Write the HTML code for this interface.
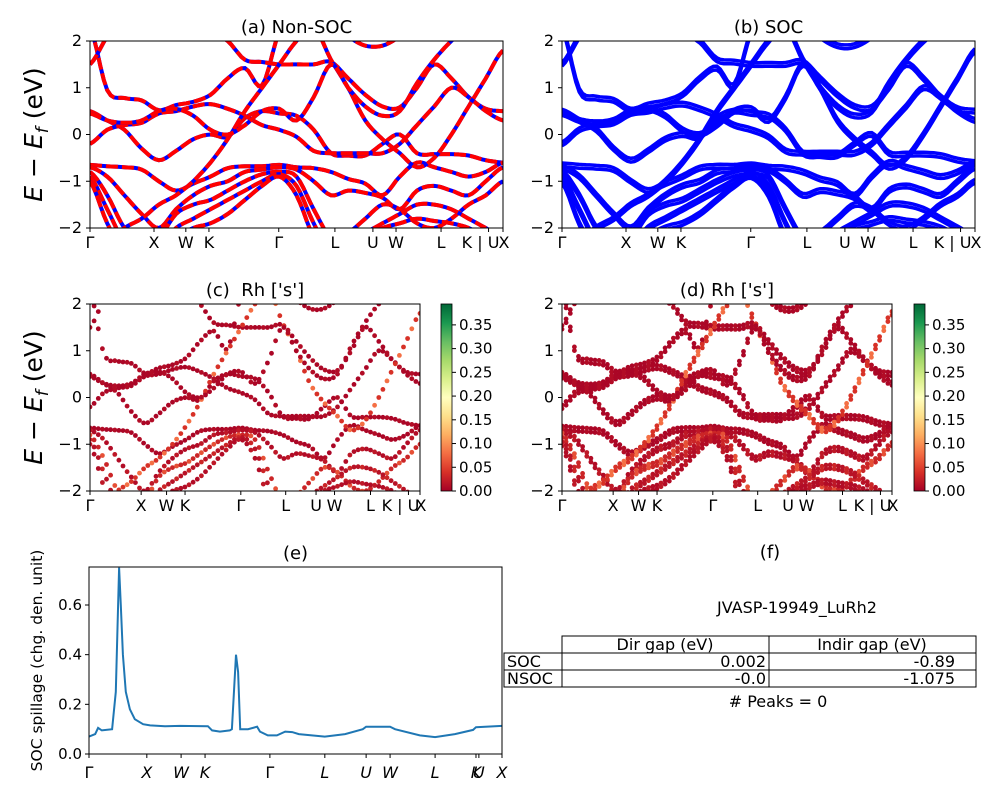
<!DOCTYPE html>
<html><head><meta charset="utf-8"><style>
body{margin:0;background:#fff;}
svg text{font-family:"DejaVu Sans","Liberation Sans",sans-serif;fill:#000;white-space:pre;}
</style></head><body>
<svg id="fig" width="1000" height="800" viewBox="0 0 1000 800" xmlns="http://www.w3.org/2000/svg">
<defs>
<linearGradient id="rdylgn" x1="0" y1="1" x2="0" y2="0">
<stop offset="0" stop-color="#a50026"/><stop offset="0.1" stop-color="#d73027"/><stop offset="0.2" stop-color="#f46d43"/><stop offset="0.3" stop-color="#fdae61"/><stop offset="0.4" stop-color="#fee08b"/><stop offset="0.5" stop-color="#ffffbf"/><stop offset="0.6" stop-color="#d9ef8b"/><stop offset="0.7" stop-color="#a6d96a"/><stop offset="0.8" stop-color="#66bd63"/><stop offset="0.9" stop-color="#1a9850"/><stop offset="1" stop-color="#006837"/>
</linearGradient>
</defs>
</svg>
<script>
// ---- data ----
const kLabels = ["Γ","X","W","K","Γ","L","U","W","L","K | U","X"];
const kTicks = [0,0.155,0.232,0.288,0.457,0.593,0.685,0.741,0.850,0.965,1];
const eTicks = [-2,-1,0,1,2];
const b1 = [2.3,0.95,0.78,0.73,0.52,0.63,0.7,0.85,1.2,1.42,1.05,2.2,2.6,2.6,2.4,2.1,1.9,1.9,2.1,2.4,2.6,2.6,2.5,2.3,2.2];
const b2 = [1.5,2.1,2.6,2.8,2.8,2.6,2.4,2.2,2.0,1.6,1.55,1.5,1.5,1.5,1.55,1.2,0.85,0.6,0.58,1.0,1.5,1.2,0.8,0.55,0.5];
const b3 = [0.5,0.3,0.1,-0.3,-0.55,-0.35,-0.1,0.0,-0.05,0.35,0.5,0.45,0.4,0.1,-0.4,-0.45,-0.45,-0.2,0.0,-0.4,-0.42,-0.42,-0.45,-0.55,-0.6];
const b4 = [-0.2,0.1,0.2,0.25,0.45,0.5,0.6,0.65,0.55,0.4,0.2,0.1,-0.05,-0.35,-0.4,-0.4,-0.4,-0.4,-0.2,0.2,0.6,1.0,0.8,0.5,0.3];
const b5 = [-0.65,-0.68,-0.7,-0.75,-1.0,-1.2,-1.05,-0.9,-0.72,-0.68,-0.68,-0.65,-0.7,-0.72,-0.8,-0.95,-1.05,-1.3,-0.9,-0.6,-0.7,-0.8,-0.9,-0.8,-0.6];
const b6 = [-0.7,-0.9,-1.3,-1.7,-2.0,-1.6,-1.3,-1.1,-1.0,-0.8,-0.75,-0.7,-0.75,-1.0,-1.3,-1.2,-1.25,-1.35,-1.6,-1.2,-1.1,-1.2,-1.3,-1.0,-0.7];
const b7 = [-0.8,-1.3,-2.0,-2.3,-2.2,-1.7,-1.5,-1.4,-1.2,-1.0,-0.85,-0.8,-0.9,-1.6,-2.2,-2.1,-1.8,-1.5,-1.6,-1.9,-2.0,-1.8,-1.5,-1.3,-1.0];
const b8 = [-0.9,-1.6,-2.3,-2.5,-2.4,-2.0,-1.8,-1.6,-1.4,-1.2,-1.0,-0.85,-1.1,-1.9,-2.5,-2.3,-2.1,-1.9,-1.7,-1.5,-1.5,-1.6,-1.8,-2.0,-2.2];
const b9 = [-1.0,-1.9,-2.5,-2.6,-2.6,-2.2,-2.0,-1.9,-1.7,-1.4,-1.1,-0.9,-1.3,-2.2,-2.6,-2.5,-2.2,-2.0,-1.9,-1.8,-1.85,-1.9,-2.0,-2.2,-2.4];
const b10 = [-2.5,-2.3,-2.0,-1.8,-1.5,-1.3,-1.0,-0.6,-0.1,0.5,1.0,1.5,2.0,2.3,1.6,1.0,0.3,-0.1,-0.4,-0.7,-0.5,0.0,0.6,1.2,1.8];
const b11 = [0.45,0.3,0.25,0.3,0.5,0.55,0.4,0.1,0.0,0.2,0.5,0.55,0.3,0.8,1.5,1.0,0.6,0.4,0.5,1.1,1.6,2.0,2.3,2.5,2.6];
const bands = [b1,b2,b3,b4,b5,b6,b7,b8,b9,b10,b11];
const bandWeight = [0.005,0.005,0.005,0.005,0.005,0.01,0.03,0.015,0.01,0.04,0.005];
const cbTicks = [0,0.05,0.1,0.15,0.2,0.25,0.3,0.35];
const spillK = [0,0.015,0.022,0.031,0.056,0.065,0.073,0.077,0.082,0.089,0.099,0.111,0.131,0.148,0.184,0.220,0.288,0.298,0.317,0.341,0.346,0.356,0.361,0.366,0.385,0.407,0.414,0.433,0.455,0.475,0.492,0.508,0.571,0.620,0.663,0.671,0.729,0.741,0.801,0.838,0.886,0.930,0.937,1];
const spillV = [0.07,0.08,0.105,0.095,0.1,0.25,0.75,0.6,0.4,0.25,0.18,0.14,0.12,0.115,0.112,0.113,0.112,0.095,0.09,0.095,0.1,0.40,0.33,0.1,0.1,0.11,0.09,0.075,0.075,0.09,0.088,0.08,0.07,0.08,0.1,0.11,0.11,0.10,0.075,0.068,0.08,0.097,0.108,0.113];
const spTicks = [0,0.2,0.4,0.6];
const spLabels = ["Γ","X","W","K","Γ","L","U","W","L","K","U","X"];
const spLabK = [0,0.140,0.223,0.281,0.438,0.571,0.671,0.729,0.838,0.937,0.944,1];

// ---- helpers ----
const NS="http://www.w3.org/2000/svg";
const svg=document.getElementById('fig');
function el(tag,attrs,parent){const e=document.createElementNS(NS,tag);for(const k in attrs)e.setAttribute(k,attrs[k]);(parent||svg).appendChild(e);return e;}
function txt(x,y,s,size,anchor,parent,extra){const t=el('text',Object.assign({x:x,y:y,'font-size':size,'text-anchor':anchor||'middle'},extra||{}),parent);t.textContent=s;return t;}
function cmap(v){const st=[[0,[165,0,38]],[0.1,[215,48,39]],[0.2,[244,109,67]],[0.3,[253,174,97]],[0.4,[254,224,139]],[0.5,[255,255,191]],[1,[0,104,55]]];const t=Math.min(1,v/0.394);for(let i=1;i<st.length;i++){if(t<=st[i][0]){const a=st[i-1],b=st[i];const f=(t-a[0])/(b[0]-a[0]);return 'rgb('+a[1].map((c,j)=>Math.round(c+(b[1][j]-c)*f)).join(',')+')';}}return 'rgb(0,104,55)';}
function sampleBand(arr,n){const out=[];const m=arr.length-1;for(let s=0;s<=n;s++){const u=s/n*m;let i=Math.min(Math.floor(u),m-1);const t=u-i;const p0=arr[Math.max(i-1,0)],p1=arr[i],p2=arr[i+1],p3=arr[Math.min(i+2,m)];const v=0.5*((2*p1)+(-p0+p2)*t+(2*p0-5*p1+4*p2-p3)*t*t+(-p0+3*p1-3*p2+p3)*t*t*t);out.push([s/n,v]);}return out;}

function bandAxes(name,x0,y0,w,h,title,ylabel){
  const g=el('g',{});
  const cid='clip-'+name;const cp=el('clipPath',{id:cid},g);el('rect',{x:x0,y:y0,width:w,height:h},cp);
  const plot=el('g',{'clip-path':'url(#'+cid+')'},g);
  const sx=k=>x0+k*w, sy=e=>y0+(2-e)/4*h;
  return {g,plot,sx,sy,x0,y0,w,h,title,ylabel};
}
function finishAxes(A){
  const {g,sx,sy,x0,y0,w,h}=A;
  el('rect',{x:x0,y:y0,width:w,height:h,fill:'none',stroke:'#000','stroke-width':1},g);
  kTicks.forEach((k,i)=>{const x=sx(k);el('line',{x1:x,y1:y0+h,x2:x,y2:y0+h+4,stroke:'#000'},g);
    let xx=x; if(i===9)xx=x-8; if(i===10)xx=x+1;
    const t=txt(xx,y0+h+20,kLabels[i],16,'middle',g);});
  eTicks.forEach(e=>{const y=sy(e);el('line',{x1:x0-4,y1:y,x2:x0,y2:y,stroke:'#000'},g);
    const t=txt(x0-8,y+5,e<0?'−'+Math.abs(e):String(e),16,'end',g);});
  const tt=txt(x0+w/2,y0-8,A.title,18,'middle',g);
  if(A.ylabel){const yl=el('text',{x:0,y:0,'font-size':25,'text-anchor':'middle',transform:'translate(42,'+(y0+h/2)+') rotate(-90)'},g);
    yl.innerHTML='<tspan font-style="italic">E</tspan> − <tspan font-style="italic">E</tspan><tspan font-size="17" font-style="italic" dy="6">f</tspan><tspan dy="-6"> (eV)</tspan>';
    }
}
function linePath(A,arr,off){return sampleBand(arr,120).map((p,i)=>(i?'L':'M')+A.sx(p[0]).toFixed(1)+','+A.sy(p[1]+off).toFixed(1)).join('');}

// (a)
const A=bandAxes('panel-a-nonsoc',90,41,413,187,'(a) Non-SOC',true);
bands.forEach(b=>{const d=linePath(A,b,0);
  const p1=el('path',{d:d,fill:'none',stroke:'#0000ff','stroke-width':4},A.plot);
  const p2=el('path',{d:d,fill:'none',stroke:'#ff0000','stroke-width':4,'stroke-dasharray':'12,4'},A.plot);});
finishAxes(A);
// (b)
const B=bandAxes('panel-b-soc',562,41,413,187,'(b) SOC',false);
bands.forEach(b=>{[-0.04,0.04].forEach(o=>{const p=el('path',{d:linePath(B,b,o),fill:'none',stroke:'#0000ff','stroke-width':3.5},B.plot);});});
finishAxes(B);
// (c),(d)
function scatterPanel(name,x0,title,ylab,split,cbx){
  const C=bandAxes(name,x0,304,330,187,title,ylab);
  bands.forEach((b,bi)=>{const offs=split?[-0.04,0.04]:[0];offs.forEach(o=>{sampleBand(b,80).forEach((p,j)=>{
    const w=(j%3===0)?bandWeight[bi]*2:bandWeight[bi];
    const c=el('circle',{cx:C.sx(p[0]).toFixed(1),cy:C.sy(p[1]+o).toFixed(1),r:2.4,fill:cmap(w)},C.plot);
    });});});
  finishAxes(C);
  const cb=el('g',{});
  el('rect',{x:cbx,y:304,width:11,height:187,fill:'url(#rdylgn)',stroke:'#000','stroke-width':0.8},cb);
  cbTicks.forEach(v=>{const y=491-v/0.394*187;el('line',{x1:cbx+11,y1:y,x2:cbx+15,y2:y,stroke:'#000'},cb);
    const t=txt(cbx+18,y+5,v.toFixed(2),15,'start',cb);});
}
scatterPanel('panel-c-rh-s',90,"(c)  Rh ['s']",true,false,441);
scatterPanel('panel-d-rh-s',562,"(d) Rh ['s']",false,true,914);
// (e)
const E=el('g',{});
const ex0=89,ey0=567,ew=413,eh=187,emax=0.753;
const esx=k=>ex0+k*ew, esy=v=>ey0+eh-v/emax*eh;
const ecp=el('clipPath',{id:'clip-e'},E);el('rect',{x:ex0,y:ey0,width:ew,height:eh},ecp);
const sp=el('path',{d:spillK.map((k,i)=>(i?'L':'M')+esx(k).toFixed(1)+','+esy(spillV[i]).toFixed(1)).join(''),fill:'none',stroke:'#1f77b4','stroke-width':2,'clip-path':'url(#clip-e)'},E);

el('rect',{x:ex0,y:ey0,width:ew,height:eh,fill:'none',stroke:'#000'},E);
spTicks.forEach(v=>{const y=esy(v);el('line',{x1:ex0-4,y1:y,x2:ex0,y2:y,stroke:'#000'},E);
  const t=txt(ex0-7,y+5,v.toFixed(1),15,'end',E);});
spLabK.forEach((k,i)=>{const x=esx(k);el('line',{x1:x,y1:ey0+eh,x2:x,y2:ey0+eh+4,stroke:'#000'},E);
  const t=txt(x,ey0+eh+24,spLabels[i],16,'middle',E,{'font-style':i===0||i===4?'normal':'italic'});});
const et=txt(ex0+ew/2,ey0-8,'(e)',18,'middle',E);
const eyl=txt(0,0,'SOC spillage (chg. den. unit)',15.5,'middle',E,{transform:'translate(42,'+(ey0+eh/2)+') rotate(-90)'});

// (f)
const F=el('g',{});
const ft=txt(770,558,'(f)',18,'middle',F);
const fid=txt(797,613,'JVASP-19949_LuRh2',16,'middle',F);
el('rect',{x:562,y:636,width:414,height:17,fill:'none',stroke:'#000'},F);
el('line',{x1:769,y1:636,x2:769,y2:687,stroke:'#000'},F);
el('rect',{x:504,y:653,width:472,height:17,fill:'none',stroke:'#000'},F);
el('rect',{x:504,y:670,width:472,height:17,fill:'none',stroke:'#000'},F);
el('line',{x1:562,y1:653,x2:562,y2:687,stroke:'#000'},F);
const cells=[[665,650,'Dir gap (eV)','middle'],[872,650,'Indir gap (eV)','middle'],[507,667,'SOC','start'],[766,667,'0.002','end'],[955,667,'-0.89','end'],[507,684,'NSOC','start'],[766,684,'-0.0','end'],[955,684,'-1.075','end']];
cells.forEach(c=>{const t=txt(c[0],c[1],c[2],16,c[3],F);});
const pk=txt(778,707,'# Peaks = 0',16,'middle',F);
</script>
</body></html>
